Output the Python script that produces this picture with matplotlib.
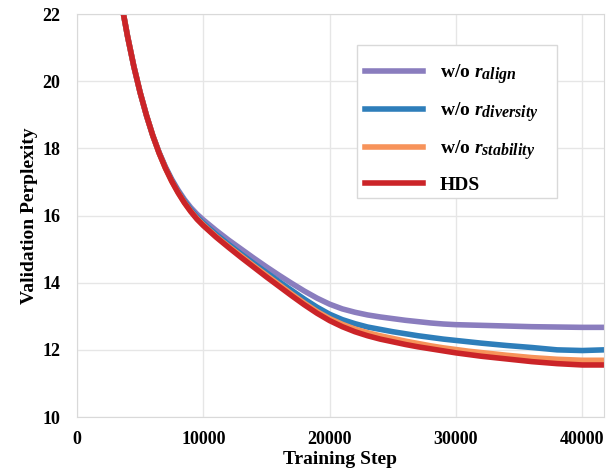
import matplotlib
matplotlib.use("Agg")
import matplotlib.pyplot as plt
import matplotlib._mathtext as mathtext_impl
from matplotlib.patches import Rectangle

plt.rcParams['font.family'] = ['Liberation Serif', 'DejaVu Serif']
plt.rcParams['font.weight'] = 'bold'
plt.rcParams['mathtext.fontset'] = 'custom'
plt.rcParams['mathtext.it'] = 'Liberation Serif:italic:bold'
plt.rcParams['mathtext.rm'] = 'Liberation Serif:bold'
# 下标稍大一些，接近原图
mathtext_impl.SHRINK_FACTOR = 0.82

# 训练步数（各曲线共用）
steps = [3000, 3500, 4000, 4500, 5000, 5500, 6000, 6500, 7000, 7500, 8000, 8500, 9000, 9500,
         10000, 11000, 12000, 13000, 14000, 15000, 16000, 17000, 18000, 19000, 20000,
         21000, 22000, 23000, 24000, 25000, 26000, 27000, 28000, 29000, 30000, 31000,
         32000, 34000, 36000, 38000, 40000, 41700]

ppl_align = [23.5, 22.36, 21.34, 20.44, 19.66, 18.98, 18.38, 17.88, 17.45, 17.08, 16.76, 16.48, 16.24, 16.04,
             15.87, 15.56, 15.27, 15.0, 14.73, 14.47, 14.22, 13.98, 13.75, 13.54, 13.36,
             13.22, 13.12, 13.04, 12.98, 12.93, 12.88, 12.84, 12.8, 12.77, 12.75, 12.74,
             12.73, 12.71, 12.69, 12.68, 12.67, 12.67]
ppl_diversity = [23.5, 22.36, 21.34, 20.44, 19.66, 18.98, 18.38, 17.87, 17.43, 17.05, 16.72, 16.43, 16.18, 15.96,
                 15.77, 15.44, 15.14, 14.85, 14.57, 14.3, 14.03, 13.77, 13.51, 13.27, 13.06,
                 12.9, 12.78, 12.68, 12.61, 12.54, 12.48, 12.42, 12.37, 12.32, 12.28, 12.24,
                 12.2, 12.13, 12.07, 12.0, 11.98, 12.0]
ppl_stability = [23.5, 22.36, 21.34, 20.44, 19.66, 18.98, 18.38, 17.86, 17.41, 17.02, 16.69, 16.39, 16.13, 15.91,
                 15.72, 15.38, 15.08, 14.79, 14.5, 14.22, 13.94, 13.66, 13.39, 13.14, 12.93,
                 12.76, 12.62, 12.51, 12.42, 12.34, 12.26, 12.19, 12.12, 12.06, 12.01, 11.96,
                 11.92, 11.84, 11.77, 11.72, 11.69, 11.69]
ppl_hds = [23.5, 22.36, 21.34, 20.44, 19.66, 18.98, 18.38, 17.86, 17.41, 17.02, 16.68, 16.38, 16.12, 15.89,
           15.7, 15.36, 15.05, 14.75, 14.46, 14.17, 13.89, 13.61, 13.34, 13.09, 12.87,
           12.69, 12.54, 12.42, 12.32, 12.24, 12.16, 12.09, 12.03, 11.97, 11.91, 11.86,
           11.81, 11.73, 11.65, 11.59, 11.55, 11.55]

fig = plt.figure(figsize=(6.13, 4.71), dpi=100)
ax = fig.add_axes([0.1256, 0.1146, 0.8594, 0.8556])

ax.plot(steps, ppl_align, color='#8A7DBE', lw=4, label=r'w/o $r_{align}$')
ax.plot(steps, ppl_diversity, color='#2E7EBA', lw=4, label=r'w/o $r_{diversity}$')
ax.plot(steps, ppl_stability, color='#F7935A', lw=4, label=r'w/o $r_{stability}$')
ax.plot(steps, ppl_hds, color='#CB2428', lw=4, label='HDS')

ax.set_xlim(0, 41700)
ax.set_ylim(10, 22)
ax.set_xticks([0, 10000, 20000, 30000, 40000])
ax.set_yticks([10, 12, 14, 16, 18, 20, 22])
ax.grid(True, color='#e6e6e6', lw=1)
ax.set_axisbelow(True)
for s in ax.spines.values():
    s.set_color('#d9d9d9')
ax.tick_params(length=0, labelsize=13)
ax.tick_params(axis='x', pad=10)
ax.tick_params(axis='y', pad=12)

ax.set_xlabel('Training Step', fontsize=14, fontweight='bold', labelpad=2)
ax.set_ylabel('Validation Perplexity', fontsize=14, fontweight='bold', labelpad=3)

# 图例边框单独画
ax.add_patch(Rectangle((0.5313, 0.5434), 0.3795, 0.3796, transform=ax.transAxes,
                       facecolor='white', edgecolor='#d9d9d9', lw=1, zorder=4))
leg = ax.legend(loc='upper left', bbox_to_anchor=(0.5465, 0.88), fontsize=14,
                frameon=False, handlelength=3.0, handletextpad=0.85, labelspacing=0.7,
                borderpad=0, borderaxespad=0)
leg.set_zorder(5)

plt.savefig('out.png', dpi=100)
plt.close()
